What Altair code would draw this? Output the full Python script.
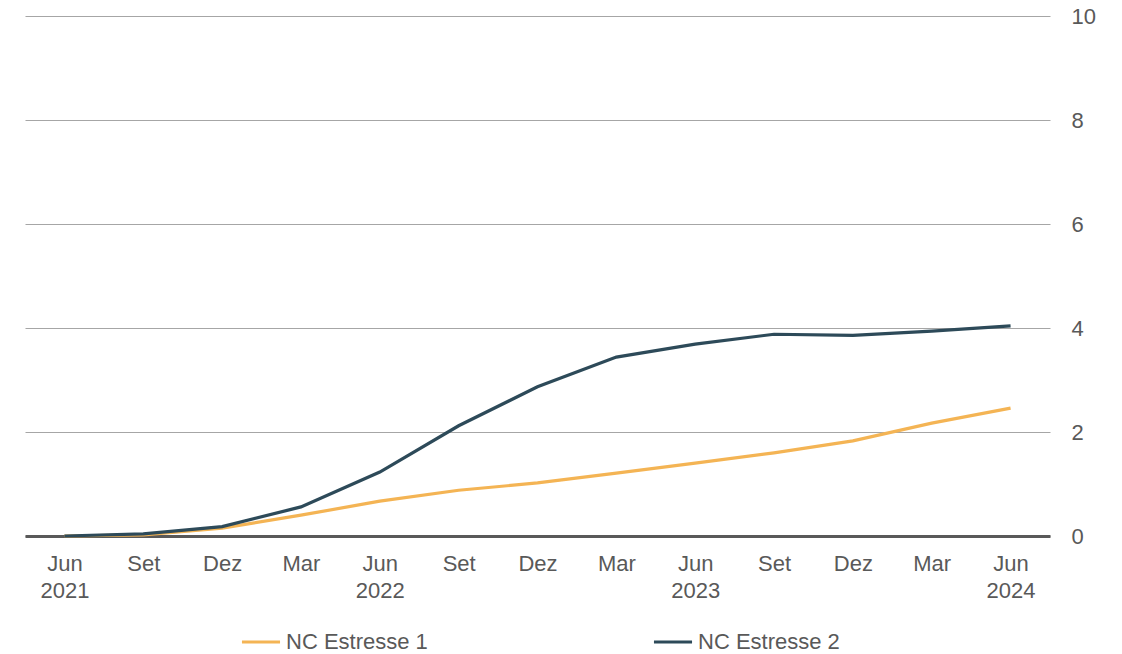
import altair as alt
import pandas as pd

# Quarterly observations, Jun 2021 to Jun 2024
periods = ["Jun 2021", "Set 2021", "Dez 2021", "Mar 2022", "Jun 2022", "Set 2022",
           "Dez 2022", "Mar 2023", "Jun 2023", "Set 2023", "Dez 2023", "Mar 2024",
           "Jun 2024"]
estresse_1 = [0.00, 0.02, 0.15, 0.40, 0.67, 0.88, 1.02, 1.21, 1.40, 1.60, 1.83, 2.17, 2.46]
estresse_2 = [0.00, 0.04, 0.18, 0.56, 1.23, 2.12, 2.87, 3.44, 3.69, 3.88, 3.86, 3.94, 4.04]
series_names = ["NC Estresse 1", "NC Estresse 2"]
series_colors = ["#F4B454", "#2D4A59"]

rows = []
for name, vals in zip(series_names, [estresse_1, estresse_2]):
    for p, v in zip(periods, vals):
        rows.append({"periodo": p, "serie": name, "valor": v})
df = pd.DataFrame(rows)

FONT = "Liberation Sans"
GRAY = "#595959"
SIZE = 22

label_expr = (
    "split(datum.label, ' ')[0] == 'Jun' ? split(datum.label, ' ') : split(datum.label, ' ')[0]"
)

chart = (
    alt.Chart(df)
    .mark_line(strokeWidth=3.2)
    .encode(
        x=alt.X(
            "periodo:N",
            sort=periods,
            scale=alt.Scale(type="point", padding=0.5),
            axis=alt.Axis(
                title=None,
                labelExpr=label_expr,
                labelAngle=0,
                labelFont=FONT,
                labelFontSize=SIZE,
                labelColor=GRAY,
                labelLineHeight=27,
                labelPadding=17,
                labelBaseline="top",
                ticks=False,
                domain=True,
                domainColor=GRAY,
                domainWidth=3,
                grid=False,
            ),
        ),
        y=alt.Y(
            "valor:Q",
            scale=alt.Scale(domain=[0, 10], nice=False),
            axis=alt.Axis(
                title=None,
                orient="right",
                values=[0, 2, 4, 6, 8, 10],
                labelFont=FONT,
                labelFontSize=SIZE,
                labelColor=GRAY,
                labelAlign="left",
                labelPadding=21,
                ticks=False,
                domain=False,
                grid=True,
                gridColor="#A6A6A6",
                gridWidth=1.2,
            ),
        ),
        color=alt.Color(
            "serie:N",
            scale=alt.Scale(domain=series_names, range=series_colors),
            legend=alt.Legend(
                title=None,
                orient="none",
                legendX=215,
                legendY=605,
                direction="horizontal",
                columns=2,
                columnPadding=219,
                symbolType="stroke",
                symbolSize=1450,
                symbolStrokeWidth=3.2,
                labelFont=FONT,
                labelFontSize=SIZE,
                labelColor=GRAY,
                labelOffset=4,
            ),
        ),
    )
    .properties(
        width=1025,
        height=520,
        autosize=alt.AutoSizeParams(type="none"),
        padding={"left": 25, "top": 16, "right": 72, "bottom": 118},
        background="white",
    )
    .configure_view(stroke=None)
)

chart.save("out.html", embed_options={"renderer": "svg", "actions": False})
